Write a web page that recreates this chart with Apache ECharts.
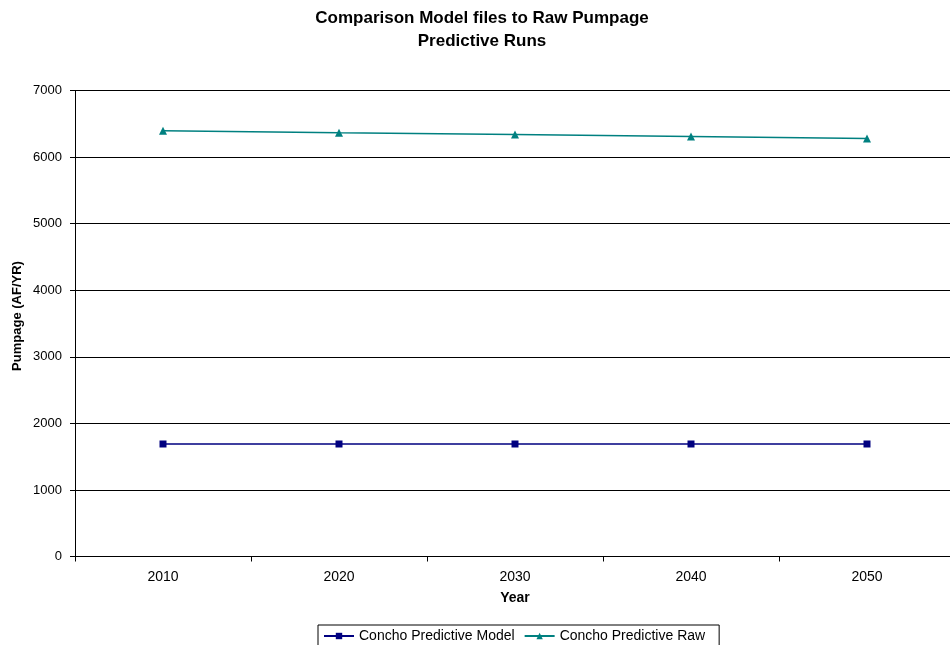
<!DOCTYPE html>
<html><head><meta charset="utf-8">
<script src="https://cdn.jsdelivr.net/npm/echarts@6/dist/echarts.min.js"></script>
<style>html,body{margin:0;padding:0;background:#fff;overflow:hidden;width:950px;height:645px}#c{width:960px;height:645px}</style>
</head><body><div id="c"></div>
<script>
const years = ['2010','2020','2030','2040','2050'];
const modelValues = [1690, 1690, 1690, 1690, 1690];
const rawValues = [6395, 6365, 6340, 6310, 6280];
const yTicks = {min: 0, max: 7000, interval: 1000};

const chart = echarts.init(document.getElementById('c'), null, {renderer: 'canvas'});
const font = 'Liberation Sans, Arial, sans-serif';
chart.setOption({
  backgroundColor: '#fff',
  animation: false,
  title: {
    text: 'Comparison Model files to Raw Pumpage\nPredictive Runs',
    left: 477, top: 2, textAlign: 'center',
    textStyle: {fontFamily: font, fontSize: 17, fontWeight: 'bold', color: '#000', lineHeight: 23}
  },
  graphic: [{
    type: 'text', x: 17, y: 316, rotation: Math.PI / 2,
    style: {text: 'Pumpage (AF/YR)', fontFamily: font, fontSize: 13, fontWeight: 'bold', fill: '#000',
            align: 'center', verticalAlign: 'middle'}
  }],
  grid: {left: 75, top: 90.5, width: 880, height: 466, containLabel: false},
  legend: {
    top: 625, left: 318,
    itemWidth: 30, itemHeight: 8, itemGap: 9,
    padding: [4, 14, 6, 5],
    borderColor: '#000', borderWidth: 1, borderRadius: 0,
    textStyle: {fontFamily: font, fontSize: 14, color: '#000'},
    data: ['Concho Predictive Model', 'Concho Predictive Raw']
  },
  xAxis: {
    type: 'category', data: years, boundaryGap: true,
    name: 'Year', nameLocation: 'middle', nameGap: 35,
    nameTextStyle: {fontFamily: font, fontSize: 14, fontWeight: 'bold', color: '#000'},
    axisLine: {lineStyle: {color: '#000', width: 1}},
    axisTick: {show: true, length: 5, inside: false, alignWithLabel: false, lineStyle: {color: '#000'}},
    axisLabel: {fontFamily: font, fontSize: 14, color: '#000', margin: 14},
    splitLine: {show: false}
  },
  yAxis: {
    type: 'value', min: yTicks.min, max: yTicks.max, interval: yTicks.interval,
    axisLine: {show: true, lineStyle: {color: '#000', width: 1}},
    axisTick: {show: true, length: 5, lineStyle: {color: '#000'}},
    axisLabel: {fontFamily: font, fontSize: 13, color: '#000', margin: 13, formatter: v => String(v)},
    splitLine: {show: true, lineStyle: {color: '#000', width: 1}}
  },
  series: [
    {
      name: 'Concho Predictive Model', type: 'line', data: modelValues,
      symbol: 'rect', symbolSize: 7,
      itemStyle: {color: '#000080'},
      lineStyle: {color: '#000080', width: 1.5}
    },
    {
      name: 'Concho Predictive Raw', type: 'line', data: rawValues,
      symbol: 'triangle', symbolSize: 8,
      itemStyle: {color: '#008080'},
      lineStyle: {color: '#008080', width: 1.5}
    }
  ]
});
</script></body></html>
